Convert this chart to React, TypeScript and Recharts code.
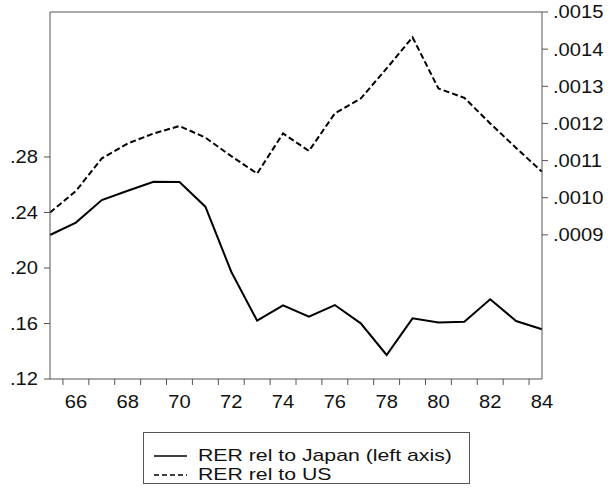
import React from 'react';
import { LineChart, Line, XAxis, YAxis, ReferenceLine, Legend } from 'recharts';

const years = [65, 66, 67, 68, 69, 70, 71, 72, 73, 74, 75, 76, 77, 78, 79, 80, 81, 82, 83, 84];

// RER relative to Japan (left axis)
const rerJapan = [
  0.2238, 0.2327, 0.249, 0.2557, 0.2622, 0.262, 0.2442, 0.1973, 0.162, 0.1731,
  0.1649, 0.1733, 0.1601, 0.1373, 0.1637, 0.1608, 0.1613, 0.1774, 0.1618, 0.1558,
];

// RER relative to US (right axis)
const rerUS = [
  0.00096, 0.001018, 0.001106, 0.001146, 0.001173, 0.001193, 0.001162, 0.001112, 0.001065, 0.001173,
  0.001126, 0.001227, 0.001267, 0.001348, 0.001432, 0.001294, 0.001269, 0.0012, 0.001134, 0.00107,
];

const xLabels = [66, 68, 70, 72, 74, 76, 78, 80, 82, 84];
const leftTicks = [0.12, 0.16, 0.2, 0.24, 0.28];
const rightTicks = [0.0009, 0.001, 0.0011, 0.0012, 0.0013, 0.0014, 0.0015];

const LEFT_DOMAIN: [number, number] = [0.12, 0.3845];
const RIGHT_DOMAIN: [number, number] = [0.000512, 0.0015];

const data = years.map((year, i) => ({ year, japan: rerJapan[i], us: rerUS[i] }));

// minor tick marks sit between observations, labels on the observations
const xTicks = [...years.slice(0, -1).map(y => y + 0.5), ...xLabels].sort((a, b) => a - b);

const FONT = '"Liberation Sans", Arial, sans-serif';
const FRAME = '#555';
const STRETCH = 1.12; // reference glyphs are a little wider than Liberation's

const fmtLeft = (v: number) => v.toFixed(2).replace(/^0/, '');
const fmtRight = (v: number) => v.toFixed(4).replace(/^0/, '');

const XTick = (props: any) => {
  const { x, y, payload } = props;
  const v = payload.value;
  if (v % 1 !== 0) {
    return <line x1={x} x2={x} y1={y} y2={y + 6} stroke={FRAME} strokeWidth={1} />;
  }
  return (
    <text
      transform={`translate(${x},${y + 29}) scale(${STRETCH},1)`}
      textAnchor="middle"
      fontSize={18}
      fontFamily={FONT}
      fill="#111"
    >
      {v}
    </text>
  );
};

const YTick = (props: any) => {
  const { x, y, payload, textAnchor, fmt } = props;
  return (
    <text
      transform={`translate(${x},${y}) scale(${STRETCH},1)`}
      textAnchor={textAnchor}
      dy="0.355em"
      fontSize={18}
      fontFamily={FONT}
      fill="#111"
    >
      {fmt(payload.value)}
    </text>
  );
};

const LegendRow = ({ dash, label }: { dash?: string; label: string }) => (
  <div style={{ display: 'flex', alignItems: 'center', height: 19 }}>
    <svg width={33} height={10} style={{ marginRight: 11, flex: 'none' }}>
      <line x1={0} x2={33} y1={5} y2={5} stroke="#000" strokeWidth={1.5} strokeDasharray={dash} />
    </svg>
    <span style={{ display: 'inline-block', transform: 'scale(1.25,1)', transformOrigin: 'left center', whiteSpace: 'nowrap', lineHeight: '17px' }}>
      {label}
    </span>
  </div>
);

const LegendBox = () => (
  <div
    style={{
      width: 327,
      height: 52,
      border: `1px solid ${FRAME}`,
      fontFamily: FONT,
      fontSize: 17,
      color: '#111',
      boxSizing: 'border-box',
      padding: '13px 0 0 10px',
      background: '#fff',
    }}
  >
    <LegendRow label="RER rel to Japan (left axis)" />
    <LegendRow dash="5 3" label="RER rel to US" />
  </div>
);

export default function App() {
  return (
    <div style={{ position: 'absolute', left: 0, top: 0, width: 610, height: 490, background: '#fff' }}>
      <LineChart width={610} height={490} data={data} margin={{ top: 12, right: 8, left: 5, bottom: 81 }}>
        <XAxis
          dataKey="year"
          type="number"
          domain={[65, 84]}
          ticks={xTicks}
          interval={0}
          tick={<XTick />}
          tickSize={0}
          tickMargin={0}
          tickLine={false}
          height={30}
          stroke={FRAME}
        />
        <YAxis
          yAxisId="left"
          domain={LEFT_DOMAIN}
          ticks={leftTicks}
          interval={0}
          allowDataOverflow
          width={45}
          tickSize={6}
          tickMargin={6}
          stroke={FRAME}
          tick={<YTick fmt={fmtLeft} />}
        />
        <YAxis
          yAxisId="right"
          orientation="right"
          domain={RIGHT_DOMAIN}
          ticks={rightTicks}
          interval={0}
          allowDataOverflow
          width={60}
          tickSize={6}
          tickMargin={5}
          stroke={FRAME}
          tick={<YTick fmt={fmtRight} />}
        />
        <ReferenceLine yAxisId="left" y={LEFT_DOMAIN[1]} stroke={FRAME} strokeWidth={1} />
        <Line
          yAxisId="left"
          dataKey="japan"
          stroke="#000"
          strokeWidth={2}
          dot={false}
          isAnimationActive={false}
        />
        <Line
          yAxisId="right"
          dataKey="us"
          stroke="#000"
          strokeWidth={2}
          strokeDasharray="6 3"
          dot={false}
          isAnimationActive={false}
        />
        <Legend
          layout="horizontal"
          verticalAlign="middle"
          content={<LegendBox />}
          wrapperStyle={{ left: 143, top: 432, width: 327, height: 52 }}
        />
      </LineChart>
    </div>
  );
}
